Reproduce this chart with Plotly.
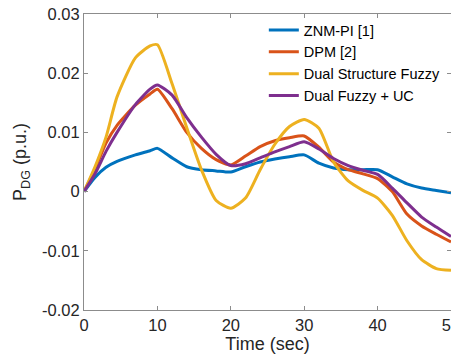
import plotly.graph_objects as go

time_s = [0, 1.5, 3, 4.5, 7, 9, 10, 12, 14, 16, 18, 20, 22, 24, 26, 28, 30, 32, 34, 36, 38, 40, 42, 44, 46, 48, 50]

znm_pi = [0, 0.0024, 0.0041, 0.0051, 0.0062, 0.0069, 0.0073, 0.0057, 0.0042, 0.0037, 0.0035, 0.0033,
          0.0042, 0.0050, 0.0055, 0.0059, 0.0062, 0.0048, 0.0040, 0.0037, 0.0037, 0.0037, 0.0025,
          0.0013, 0.0006, 0.0002, -0.0002]
dpm = [0, 0.0038, 0.0082, 0.0112, 0.0146, 0.0165, 0.0173, 0.0140, 0.0100, 0.0073, 0.0054, 0.0045,
       0.0060, 0.0076, 0.0086, 0.0091, 0.0094, 0.0075, 0.0050, 0.0037, 0.0030, 0.0022, 0.0000,
       -0.0038, -0.0058, -0.0072, -0.0085]
dual_fuzzy = [0, 0.0042, 0.0092, 0.0160, 0.0226, 0.0246, 0.0248, 0.0182, 0.0108, 0.0037, -0.0015, -0.0028,
              -0.0011, 0.0037, 0.0080, 0.0110, 0.0122, 0.0107, 0.0050, 0.0018, 0.0002, -0.0011, -0.0040,
              -0.0083, -0.0115, -0.0130, -0.0133]
dual_fuzzy_uc = [0, 0.0030, 0.0068, 0.0100, 0.0147, 0.0173, 0.0180, 0.0163, 0.0125, 0.0092, 0.0063, 0.0044,
                 0.0047, 0.0057, 0.0067, 0.0076, 0.0084, 0.0072, 0.0056, 0.0044, 0.0036, 0.0029, 0.0006,
                 -0.0019, -0.0043, -0.0060, -0.0076]

names = ["ZNM-PI [1]", "DPM [2]", "Dual Structure Fuzzy", "Dual Fuzzy + UC"]
series = [znm_pi, dpm, dual_fuzzy, dual_fuzzy_uc]
colors = ["#0072BD", "#D95319", "#EDB120", "#7E2F8E"]

x_ticks = [0, 10, 20, 30, 40, 50]
y_ticks = [-0.02, -0.01, 0, 0.01, 0.02, 0.03]
y_ticklabels = ["-0.02", "-0.01", "0", "0.01", "0.02", "0.03"]

fig = go.Figure()
for n, s, c in zip(names, series, colors):
    fig.add_trace(go.Scatter(x=time_s, y=s, mode="lines", name=n,
                             line=dict(color=c, width=3, shape="spline", smoothing=0.6)))

font_family = "Liberation Sans, Arial, sans-serif"
axis_common = dict(showgrid=False, zeroline=False, showline=True, linecolor="#8c8c8c", linewidth=1,
                   mirror="ticks", ticks="inside", ticklen=4, tickcolor="#8c8c8c",
                   ticklabeloverflow="allow", automargin=False,
                   tickfont=dict(family=font_family, size=16.5, color="#262626"))

fig.update_layout(
    width=451, height=359,
    margin=dict(l=84, r=0, t=14, b=49),
    paper_bgcolor="white", plot_bgcolor="white",
    showlegend=True,
    legend=dict(x=0.49, y=1.0, xanchor="left", yanchor="top", bgcolor="rgba(0,0,0,0)",
                font=dict(family=font_family, size=14.5, color="#000000"),
                tracegroupgap=0, itemwidth=30),
    xaxis=dict(range=[0, 50], tickvals=x_ticks,
               title=dict(text="Time (sec)", font=dict(family=font_family, size=18, color="#262626"), standoff=4),
               **axis_common),
    yaxis=dict(range=[-0.02, 0.03], tickvals=y_ticks, ticktext=y_ticklabels,
               title=dict(text="P<sub>DG</sub> (p.u.)", font=dict(family=font_family, size=18, color="#262626"), standoff=10),
               **axis_common),
)

fig.write_html("out.html")
